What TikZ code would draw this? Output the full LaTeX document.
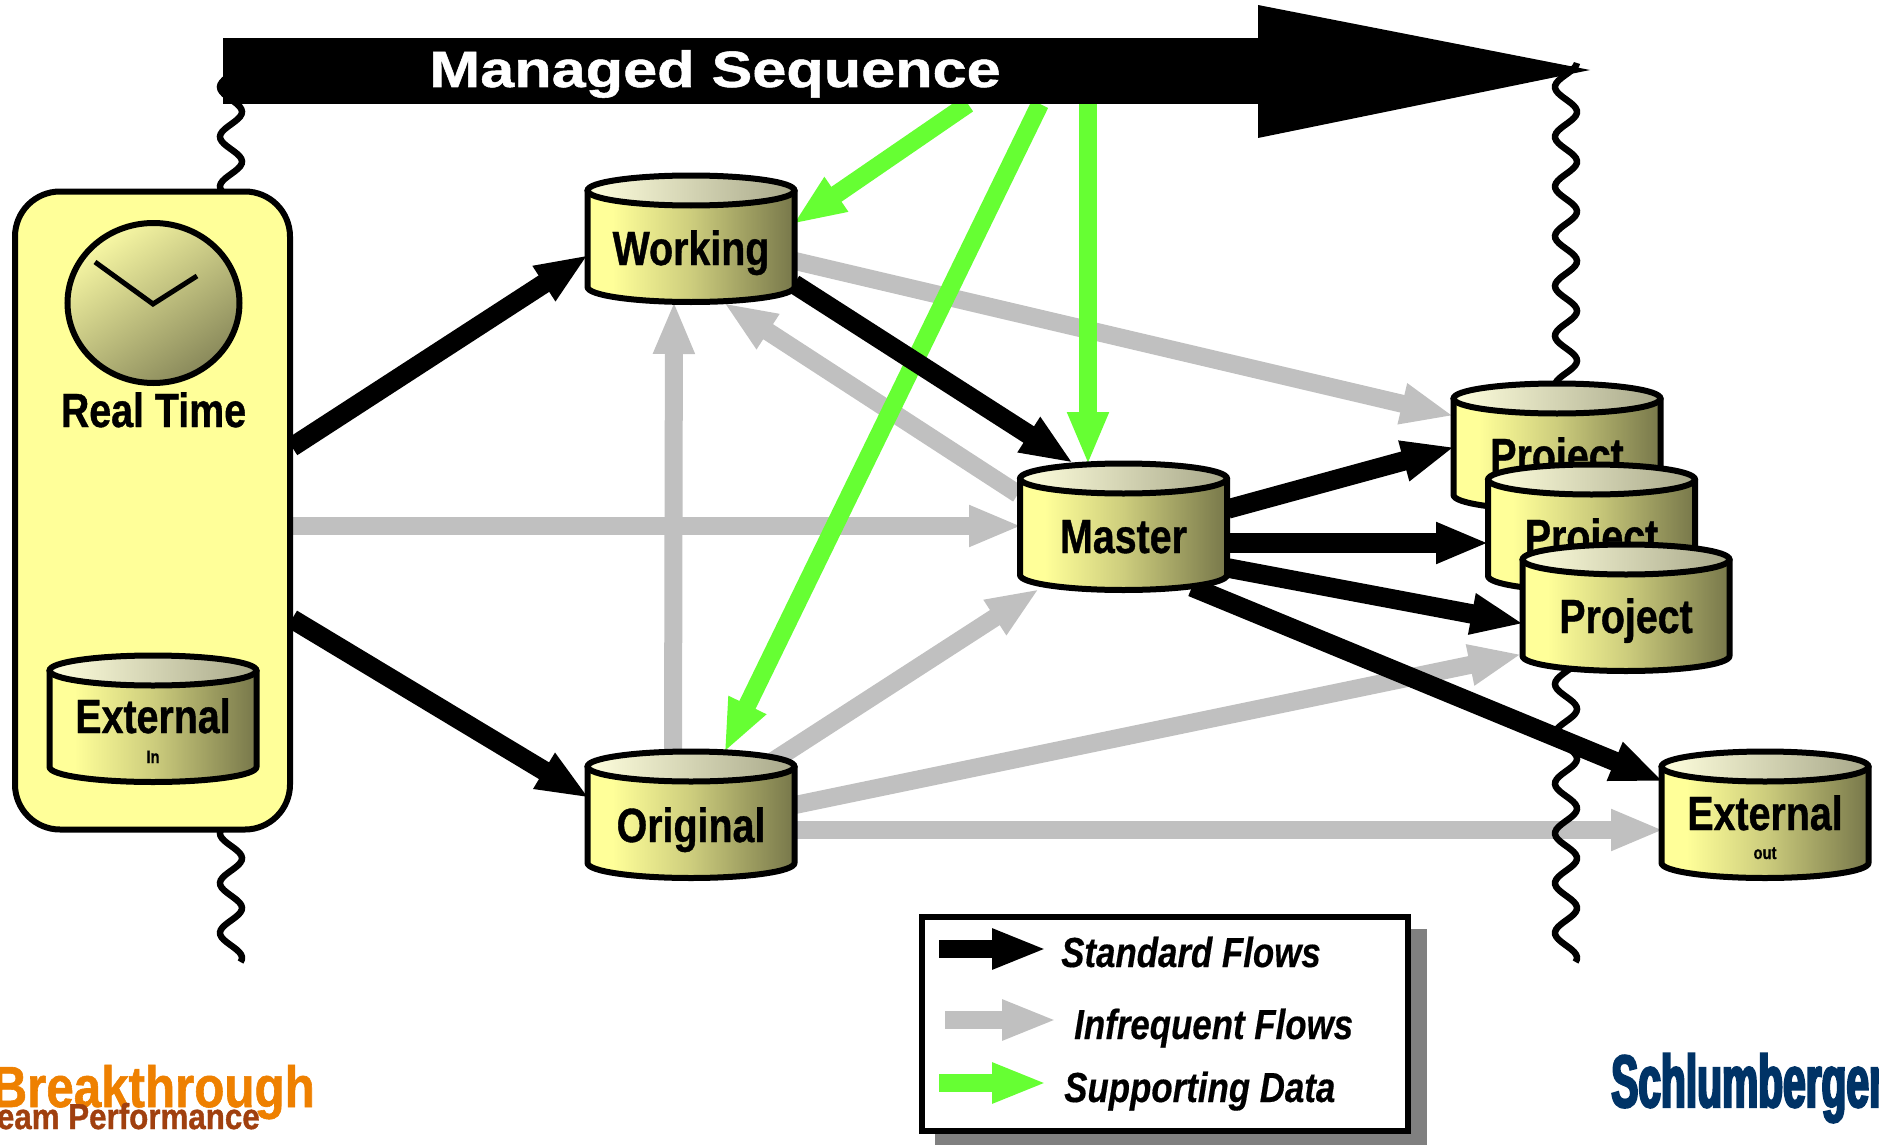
\documentclass[tikz,border=0pt]{standalone}
\usepackage{fontspec}
\usetikzlibrary{arrows.meta,backgrounds}
\setmainfont{Liberation Sans}
\newfontfamily\condf[FakeStretch=0.82,FakeBold=0.8]{Liberation Sans}
\newfontfamily\seqf[FakeStretch=1.2,FakeBold=1]{Liberation Sans}
\newfontfamily\legf[FakeStretch=0.83,FakeBold=0.4]{Liberation Sans}
\newfontfamily\brkf[FakeStretch=0.85,FakeBold=1]{Liberation Sans}
\newfontfamily\teamf[FakeStretch=0.87,FakeBold=1]{Liberation Sans}
\newfontfamily\schf[FakeStretch=0.55,FakeBold=3]{Liberation Sans}
\definecolor{ylbox}{HTML}{FFFF99}
\definecolor{flowgrey}{HTML}{C0C0C0}
\definecolor{flowgreen}{HTML}{66FF33}
\definecolor{shadowgrey}{HTML}{808080}
\definecolor{brkorange}{HTML}{EE8000}
\definecolor{brkbrown}{HTML}{A0400F}
\definecolor{slbblue}{HTML}{003366}
\definecolor{bodymid}{HTML}{CDCD7D}
\definecolor{bodyend}{HTML}{77774A}
\definecolor{toplft}{HTML}{FFFFDD}
\definecolor{toprgt}{HTML}{A8A88A}
\definecolor{clocklight}{HTML}{F8F8A4}
\definecolor{clockdark}{HTML}{88885A}
\pgfdeclarehorizontalshading{cylbody}{100bp}{color(0bp)=(ylbox); color(31bp)=(ylbox); color(50bp)=(bodymid); color(75bp)=(bodyend); color(100bp)=(bodyend)}
\pgfdeclarehorizontalshading{cyltop}{100bp}{color(0bp)=(toplft); color(25bp)=(toplft); color(75bp)=(toprgt); color(100bp)=(toprgt)}
\newcommand\cylinder[5]{%
  \draw[line width=6pt,shade,shading=cylbody,line join=round]
    (#2-103.5,#3-48.5) -- (#2-103.5,#3+48)
    arc[start angle=180,end angle=360,x radius=103.5pt,y radius=15pt]
    -- (#2+103.5,#3-48.5) -- cycle;
  \draw[line width=6pt,shade,shading=cyltop] (#2,#3-48.5) ellipse[x radius=103.5pt,y radius=15pt];
  \node[cylnode] (#1) at (#2,#3) {};
  \node[cyllabel] (#1-label) at (#2,#3+#5) {#4};
}
\tikzset{
  cylnode/.style={minimum width=210pt,minimum height=130pt,inner sep=0pt},
  cyllabel/.style={anchor=base,font=\condf\bfseries\fontsize{48}{48}\selectfont,inner sep=0pt},
  sublabel/.style={anchor=base,font=\condf\bfseries\fontsize{18}{18}\selectfont,inner sep=0pt},
  flowline/.style={line width=18pt,shorten >=-4pt,-{Triangle[length=53pt,width=38pt]}},
  stdflow/.style={flowline,line width=19.5pt,draw=black},
  rareflow/.style={flowline,draw=flowgrey},
  dataflow/.style={flowline,draw=flowgreen},
  legendflow/.style={line width=18pt,-{Triangle[length=55pt,width=37pt]}},
  wave/.style={line width=6.5pt,smooth},
  legendtext/.style={anchor=base west,font=\legf\itshape\bfseries\fontsize{42}{42}\selectfont,inner sep=0pt},
}
\begin{document}
\begin{tikzpicture}[x=1pt,y=-1pt]
\useasboundingbox (0,0) rectangle (1879,1145);
% real time panel
\node[draw=black,line width=6pt,fill=ylbox,rounded corners=45pt,minimum width=275pt,minimum height=638pt,inner sep=0pt] (rt) at (152.5,510.5) {};
\draw[line width=6pt,top color=clocklight,bottom color=clockdark,shading angle=35] (153.5,303) ellipse[x radius=86pt,y radius=80pt];
\draw[line width=5pt] (95,262) -- (153,304) -- (197,276);
\node[cyllabel] (rtlabel) at (153.5,427) {Real Time};
% stores
\cylinder{working}{691}{239}{Working}{26}
\cylinder{original}{691}{815}{Original}{27}
\cylinder{master}{1123.5}{527}{Master}{26}
\cylinder{projA}{1557}{447}{Project}{25}
\cylinder{projB}{1591.5}{528}{Project}{25}
\cylinder{projC}{1626}{608}{Project}{25}
\cylinder{extin}{153}{719}{External}{14}
\node[sublabel] (inlabel) at (153,763) {In};
\cylinder{extout}{1765}{815}{External}{15}
\node[sublabel] (outlabel) at (1765,859) {out};
% managed sequence
\node[fill=black,minimum width=1035pt,minimum height=66pt,inner sep=0pt] (seq) at (740.5,71) {};
\fill[black] (1258,5) -- (1590,70) -- (1258,138) -- cycle;
\node[text=white,font=\seqf\bfseries\fontsize{51}{51}\selectfont,anchor=base,inner sep=0pt] (seqlabel) at (715,87) {Managed Sequence};
% connectors and waves behind
\begin{scope}[on background layer]
\draw[rareflow] ([shift={(139.5,15.5)}]rt.center) -- ([shift={(-105.5,-1)}]master.center);
\draw[rareflow] ([shift={(-18,-65)}]original.center) -- ([shift={(-17,66)}]working.center);
\draw[rareflow] ([shift={(-105.5,-33)}]master.center) -- ([shift={(36,66)}]working.center);
\draw[rareflow] ([shift={(104,22)}]working.center) -- ([shift={(-107,-32)}]projA.center);
\draw[rareflow] ([shift={(82,-54)}]original.center) -- ([shift={(-87.5,64)}]master.center);
\draw[rareflow] ([shift={(104,-10)}]original.center) -- ([shift={(-108,47)}]projC.center);
\draw[rareflow] ([shift={(104,15)}]original.center) -- ([shift={(-105,15)}]extout.center);
\draw[wave] plot[domain=72:962,samples=360,variable=\t] ({231-11*cos(7.2346*(\t-87))},\t);
\draw[wave] plot[domain=63:962,samples=360,variable=\t] ({1566-11*cos(7.2346*(\t-87))},\t);
\draw[dataflow] ([shift={(227.5,33)}]seq.center) -- ([shift={(105,-17)}]working.center);
\draw[dataflow] ([shift={(299.5,33)}]seq.center) -- ([shift={(35,-66)}]original.center);
\draw[dataflow] ([shift={(347.5,33)}]seq.center) -- ([shift={(-35.5,-66)}]master.center);
\draw[stdflow] ([shift={(139.5,-63.5)}]rt.center) -- ([shift={(-106,18)}]working.center);
\draw[stdflow] ([shift={(139.5,108.5)}]rt.center) -- ([shift={(-105,-19)}]original.center);
\draw[stdflow] ([shift={(103,45)}]working.center) -- ([shift={(-53.5,-66)}]master.center);
\draw[stdflow] ([shift={(104.5,-18)}]master.center) -- ([shift={(-106,1)}]projA.center);
\draw[stdflow] ([shift={(104.5,16)}]master.center) -- ([shift={(-106.5,15)}]projB.center);
\draw[stdflow] ([shift={(104.5,41)}]master.center) -- ([shift={(-106,15)}]projC.center);
\draw[stdflow] ([shift={(68.5,60)}]master.center) -- ([shift={(-105,-35)}]extout.center);
\end{scope}
% legend
\fill[shadowgrey] (935,929) rectangle (1427,1145);
\node[draw=black,line width=6pt,fill=white,minimum width=486pt,minimum height=214pt,inner sep=0pt] (legend) at (1165,1024) {};
\coordinate (lgA) at (939,949); \coordinate (lgAe) at (1047,949);
\coordinate (lgB) at (945,1020); \coordinate (lgBe) at (1057,1020);
\coordinate (lgC) at (939,1083); \coordinate (lgCe) at (1047,1083);
\draw[legendflow,draw=black] (lgA) -- (lgAe);
\draw[legendflow,draw=flowgrey] (lgB) -- (lgBe);
\draw[legendflow,draw=flowgreen] (lgC) -- (lgCe);
\node[legendtext] (lgtA) at (1061,967) {Standard Flows};
\node[legendtext] (lgtB) at (1074,1039) {Infrequent Flows};
\node[legendtext] (lgtC) at (1064,1102) {Supporting Data};
% logos
\node[anchor=base east,inner sep=0pt,text=brkorange,font=\brkf\bfseries\fontsize{58}{58}\selectfont] (brk) at (315,1107) {Breakthrough};
\node[anchor=base east,inner sep=0pt,text=brkbrown,font=\teamf\bfseries\fontsize{36}{36}\selectfont] (team) at (260,1129) {eam Performance};
\node[anchor=base west,inner sep=0pt,text=slbblue,font=\schf\bfseries\fontsize{74}{74}\selectfont] (slb) at (1611,1107) {Schlumberger};
\end{tikzpicture}
\end{document}
